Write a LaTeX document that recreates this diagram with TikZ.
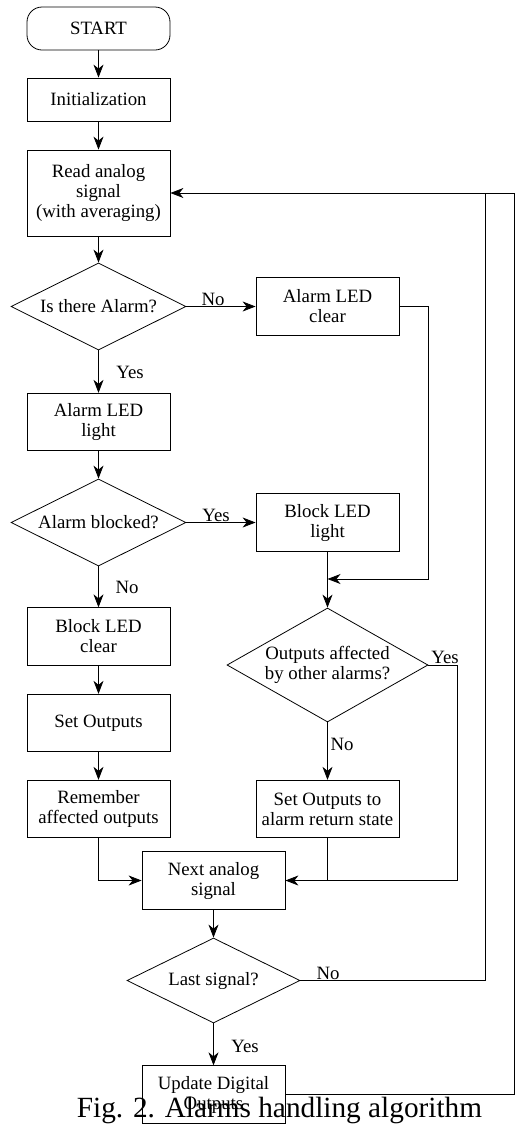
\documentclass[tikz,border=0pt]{standalone}
\usepackage{fontspec}
\setmainfont{Liberation Serif}
\usetikzlibrary{shapes.geometric,arrows.meta}

\begin{document}
\begin{tikzpicture}[x=1pt,y=-1pt,line width=0.8pt,
  >={Stealth[length=13pt,width=10pt,inset=4pt]},
  every node/.style={font=\fontsize{18.8}{20}\selectfont,align=center},
  block/.style={draw,minimum width=143pt,minimum height=57.5pt,inner sep=2pt},
  startblock/.style={block,rounded corners=15pt,minimum height=43pt},
  decision/.style={draw,diamond,aspect=2,inner sep=0pt,minimum width=175pt,minimum height=87pt},
  lbl/.style={anchor=base}]

\useasboundingbox (0,0) rectangle (515,1125);

% left column
\node (start) at (98.5,28.5) [startblock] {START};
\node (init) at (98.5,99.5) [block,minimum height=43pt] {Initialization};
\node (read) at (98.5,193) [block,minimum height=86pt] {Read analog\\signal\\(with averaging)};
\node (isalarm) at (98.5,306.5) [decision] {Is there Alarm?};
\node (ledon) at (98.5,422) [block] {Alarm LED\\light};
\node (blocked) at (98.5,522.5) [decision] {Alarm blocked?};
\node (blkclr) at (98.5,636.5) [block] {Block LED\\clear};
\node (setout) at (98.5,723) [block] {Set Outputs};
\node (remember) at (98.5,809) [block] {Remember\\affected outputs};

% right column
\node (ledclr) at (327.5,306.5) [block] {Alarm LED\\clear};
\node (blkon) at (327.5,522.5) [block] {Block LED\\light};
\node (affected) at (327.5,665) [decision,aspect=1.76,minimum width=201pt,minimum height=114pt] {Outputs affected\\by other alarms?};
\node (retstate) at (327.5,809) [block] {Set Outputs to\\alarm return state};

% bottom
\node (next) at (213.5,880.5) [block] {Next analog\\signal};
\node (last) at (213.5,980.5) [decision,minimum width=173pt,minimum height=85pt] {Last signal?};
\node (update) at (213.5,1094.5) [block] {Update Digital\\Outputs};

\coordinate (clrturn) at (428,306.5);
\coordinate (join) at (327.5,579);
\coordinate (yesturn) at (457,665);
\coordinate (loopin) at (485,193);
\coordinate (updup) at (514,193);

\draw [->] (start) to (init);
\draw [->] (init) to (read);
\draw [->] (read) to (isalarm);
\draw [->] (isalarm.east) to (ledclr.west);
\draw [->] (isalarm) to (ledon);
\draw [->] (ledon) to (blocked);
\draw [->] (blocked.east) to (blkon.west);
\draw [->] (blocked) to (blkclr);
\draw [->] (blkclr) to (setout);
\draw [->] (setout) to (remember);

\draw [->] (ledclr.east) -- (clrturn) |- (join);
\draw [->] (blkon) to (affected);
\draw [->] (affected) to (retstate);
\draw [->] (affected.east) -- (yesturn) |- (next.east);
\draw (retstate.south) -- (retstate.south |- next.east);
\draw [->] (remember.south) |- (next.west);

\draw [->] (next) to (last);
\draw [->] (last) to (update);
\draw (last.east) -| (loopin);
\draw [->] (update.east) -| (updup) -- (read.east);

\node (noalarm) at (213,305) [lbl] {No};
\node (yesalarm) at (130,378) [lbl] {Yes};
\node (yesblocked) at (216,521) [lbl] {Yes};
\node (noblocked) at (127,593) [lbl] {No};
\node (yesaffected) at (445,663) [lbl] {Yes};
\node (noaffected) at (342,750) [lbl] {No};
\node (nolast) at (328,979) [lbl] {No};
\node (yeslast) at (245,1052) [lbl] {Yes};

\node (caption) at (279.5,1117) [anchor=base,font=\fontsize{29.3}{32}\selectfont] {Fig. 2. Alarms handling algorithm};

\end{tikzpicture}
\end{document}
